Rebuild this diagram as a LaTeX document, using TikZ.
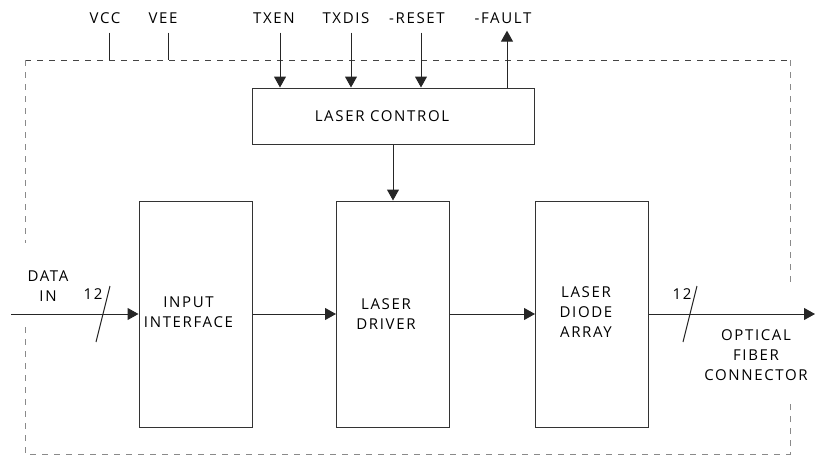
\documentclass[tikz,border=0pt]{standalone}
\usepackage{fontspec}
\setmainfont{Open Sans}[LetterSpace=11]
\usetikzlibrary{arrows.meta}
\definecolor{boxline}{HTML}{333333}
\definecolor{dashdark}{HTML}{444444}
\definecolor{dashlight}{HTML}{8A8A8A}
\begin{document}
\begin{tikzpicture}[x=1pt,y=-1pt,
  font=\fontsize{15}{20}\selectfont,
  blk/.style={draw=boxline, line width=1pt, fill=white,
              inner sep=0pt, minimum width=113pt, minimum height=226pt},
  ctrlbox/.style={draw=boxline, line width=1pt, fill=white,
              inner sep=0pt, minimum width=282pt, minimum height=56pt},
  pinlbl/.style={inner sep=0pt},
  txt/.style={align=center, inner sep=0pt},
  arr/.style={draw=black!85, line width=1pt, -{Triangle[width=12pt,length=11pt]}},
  wire/.style={draw=black!85, line width=1pt},
  border/.style={line width=1pt, dash pattern=on 6pt off 6pt}]

\useasboundingbox (0,0) rectangle (815,455);

% dashed module outline, open where the data enters and leaves
\coordinate (nw) at (25,60);
\coordinate (ne) at (790,60);
\coordinate (sw) at (25,454);
\coordinate (se) at (790,454);
\coordinate (lgapA) at (25,243);
\coordinate (lgapB) at (25,327);
\coordinate (rgapA) at (790,282);
\coordinate (rgapB) at (790,399);
\draw[border, draw=dashdark] (nw) -- (ne);
\draw[border, draw=dashlight] (nw) -- (lgapA);
\draw[border, draw=dashlight] (ne) -- (rgapA);
\draw[border, draw=dashlight] (lgapB) -- (sw) -- (se) -- (rgapB);

% control block and the three data-path blocks
\node[ctrlbox] (ctrl) at (393,116) {};
\node[blk] (input)  at (195.5,314) {};
\node[blk] (driver) at (393,314)   {};
\node[blk] (diode)  at (592,314)   {};

% block captions, set a little left of centre
\node[txt] (ctrltxt)   at ([xshift=-11pt]ctrl.center)  {LASER CONTROL};
\node[txt] (inputtxt)  at ([xshift=-7pt,yshift=2pt]input.center)  {INPUT\\INTERFACE};
\node[txt] (drivertxt) at ([xshift=-7pt]driver.center) {LASER\\DRIVER};
\node[txt] (diodetxt)  at ([xshift=-6pt,yshift=2pt]diode.center)  {LASER\\DIODE\\ARRAY};

% supply and control pin labels
\node[pinlbl] (vcc)   at (105,18) {VCC};
\node[pinlbl] (vee)   at (163,18) {VEE};
\node[pinlbl] (txen)  at (274,18) {TXEN};
\node[pinlbl] (txdis) at (346,18) {TXDIS};
\node[pinlbl] (reset) at (417,18) {-RESET};
\node[pinlbl] (fault) at (503,18) {-FAULT};

\coordinate (vccpin)   at ([xshift=4pt,yshift=-9pt]vcc.south);
\coordinate (veepin)   at ([xshift=5pt,yshift=-9pt]vee.south);
\coordinate (txenpin)  at ([xshift=6pt,yshift=-9pt]txen.south);
\coordinate (txdispin) at ([xshift=5pt,yshift=-9pt]txdis.south);
\coordinate (resetpin) at ([xshift=4pt,yshift=-9pt]reset.south);
\coordinate (faultpin) at ([xshift=4pt,yshift=-7pt]fault.south);

\draw[wire] (vccpin) -- (vccpin |- nw);
\draw[wire] (veepin) -- (veepin |- nw);
\draw[arr] (txenpin)  -- (txenpin |- ctrl.north);
\draw[arr] (txdispin) -- (txdispin |- ctrl.north);
\draw[arr] (resetpin) -- (resetpin |- ctrl.north);
\draw[arr] (faultpin |- ctrl.north) -- (faultpin);

\draw[arr] (ctrl.south) -- (driver.north);

% data path
\coordinate (datasrc) at (11,314);
\coordinate (fiber)   at (815,314);
\draw[arr] (datasrc) -- (input.west);
\draw[arr] (input.east) -- (driver.west);
\draw[arr] (driver.east) -- (diode.west);
\draw[arr] (diode.east) -- (fiber);

% 12-line bus marks
\draw[wire] (96,342) -- (110,286);
\draw[wire] (683,342) -- (697,286);
\node[txt] (busin)  at (93,294)  {12};
\node[txt] (busout) at (682,294) {12};

\node[txt] (datain) at (48,286)  {DATA\\IN};
\node[txt] (conn)   at (756,355) {OPTICAL\\FIBER\\CONNECTOR};
\end{tikzpicture}
\end{document}
